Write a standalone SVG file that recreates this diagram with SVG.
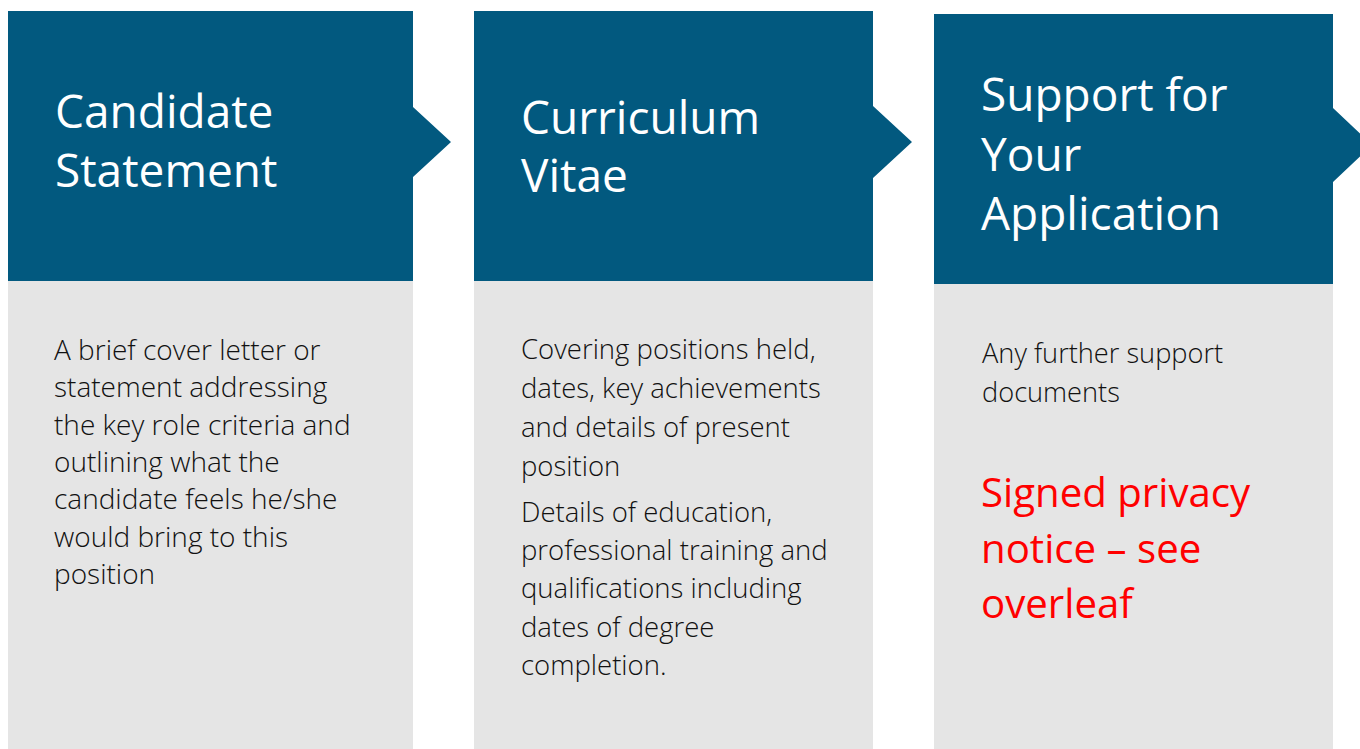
<svg xmlns="http://www.w3.org/2000/svg" width="1360" height="749" viewBox="0 0 1360 749">
<style>
.hdr{fill:#02597F}
.body{fill:#E5E5E5}
.ht{font-family:"Open Sans","Noto Sans",sans-serif;font-size:46px;fill:#FFFFFF}
.bt{font-family:"Open Sans","Noto Sans",sans-serif;font-weight:300;fill:#111111}
.b1{font-size:28px}
.b2{font-size:27.5px}
.b3{font-size:27.2px}
.rt{font-family:"Open Sans","Noto Sans",sans-serif;font-size:40.2px;fill:#FF0000}
</style>
<rect width="1360" height="749" fill="#FFFFFF"/>
<g id="node-candidate-statement">
<path class="hdr" d="M8 11 H413 V107 L451 142 L413 177 V281 H8 Z"/>
<rect class="body" x="8" y="281" width="405" height="468"/>
<text class="ht" x="55" y="128">Candidate</text>
<text class="ht" x="55" y="187">Statement</text>
<text class="bt b1" x="54" y="360">A brief cover letter or</text>
<text class="bt b1" x="54" y="397.3">statement addressing</text>
<text class="bt b1" x="54" y="434.6">the key role criteria and</text>
<text class="bt b1" x="54" y="471.9">outlining what the</text>
<text class="bt b1" x="54" y="509.2">candidate feels he/she</text>
<text class="bt b1" x="54" y="546.5">would bring to this</text>
<text class="bt b1" x="54" y="583.8">position</text>
</g>
<g id="node-curriculum-vitae">
<path class="hdr" d="M474 11 H873 V106 L912 142 L873 178 V281 H474 Z"/>
<rect class="body" x="474" y="281" width="399" height="468"/>
<text class="ht" x="521" y="134">Curriculum</text>
<text class="ht" x="521" y="192">Vitae</text>
<text class="bt b2" x="521" y="359">Covering positions held,</text>
<text class="bt b2" x="521" y="398">dates, key achievements</text>
<text class="bt b2" x="521" y="437">and details of present</text>
<text class="bt b2" x="521" y="476">position</text>
<text class="bt b2" x="521" y="522">Details of education,</text>
<text class="bt b2" x="521" y="560">professional training and</text>
<text class="bt b2" x="521" y="598">qualifications including</text>
<text class="bt b2" x="521" y="637">dates of degree</text>
<text class="bt b2" x="521" y="675">completion.</text>
</g>
<g id="node-support">
<path class="hdr" d="M934 14 H1333 V108 L1372 145 L1333 182 V284 H934 Z"/>
<rect class="body" x="934" y="284" width="399" height="465"/>
<text class="ht" x="981" y="111">Support for</text>
<text class="ht" x="981" y="171">Your</text>
<text class="ht" x="981" y="230">Application</text>
<text class="bt b3" x="982" y="363">Any further support</text>
<text class="bt b3" x="982" y="402">documents</text>
<text class="rt" x="981" y="507">Signed privacy</text>
<text class="rt" x="981" y="563">notice – see</text>
<text class="rt" x="981" y="618">overleaf</text>
</g>
<g id="connectors"></g>
</svg>
